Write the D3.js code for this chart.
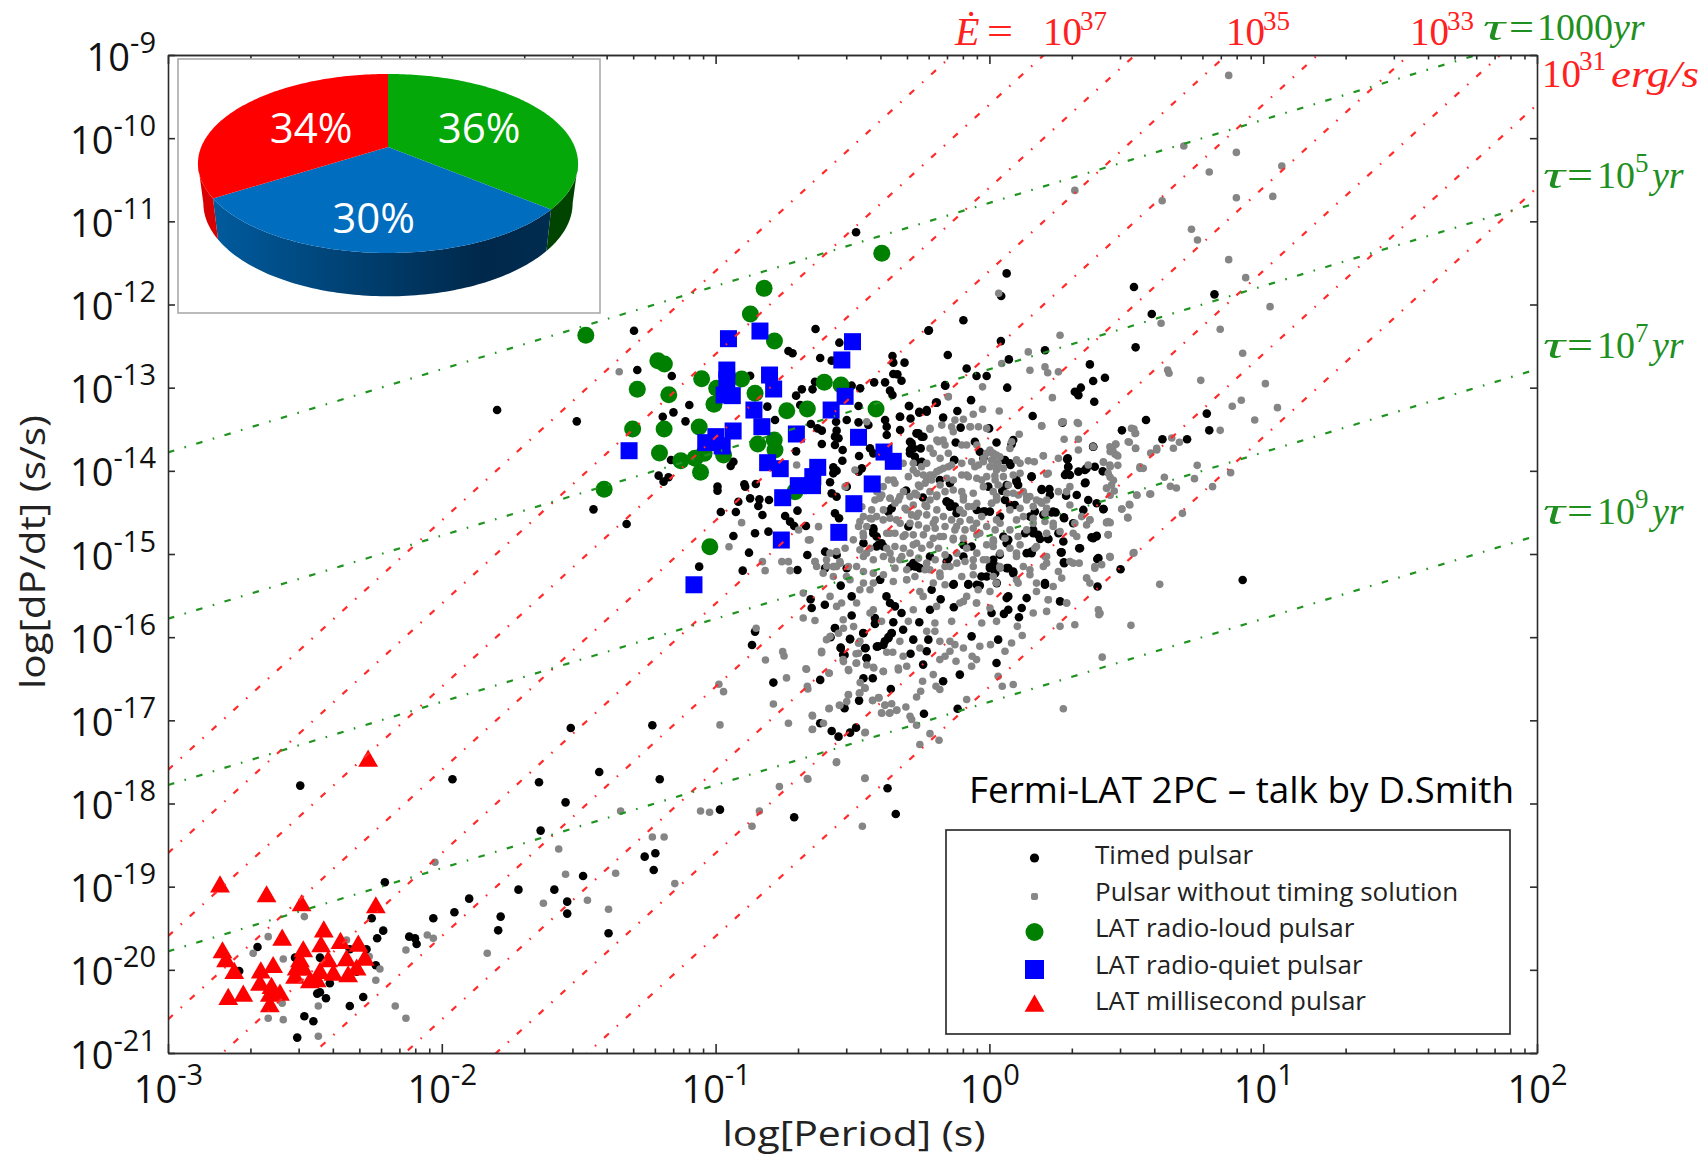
<!DOCTYPE html>
<html>
<head>
<meta charset="utf-8">
<title>Pulsar P-Pdot diagram</title>
<script src="https://cdn.jsdelivr.net/npm/d3@7"></script>
<style>
  body { margin: 0; background: #fff; }
  svg { display: block; }
  text { font-family: "Open Sans", sans-serif; }
  .cm { font-family: "Liberation Serif", serif; }
</style>
</head>
<body>
<div id="chart-container"></div>
<script>
// All points are [log10 period (s), log10 dP/dt (s/s)]

// Pulsars with a timing solution (black)
var timedPulsars = [
  [-2.517,-17.785],[-1.961,-17.709],[-1.645,-17.745],[-1.548,-17.986],[-2.208,-18.947],[-1.639,-18.326],[-1.720,-19.036],
  [-1.589,-19.036],[-1.900,-19.144],[-1.954,-19.308],[-2.031,-19.38],[-1.785,-19.36],[-2.256,-19.38],[-1.542,-19.18],
  [-1.542,-19.324],[-2.214,-19.529],[-1.794,-19.525],[-2.236,-19.621],[-2.119,-19.601],[-2.098,-19.621],[-2.092,-19.689],
  [-2.673,-19.725],[-2.336,-19.753],[-2.275,-19.753],[-2.536,-19.853],[-2.445,-19.853],[-2.740,-20.014],[-2.241,-19.945],
  [-2.311,-20.022],[-2.409,-20.162],[-2.455,-20.286],[-2.445,-20.27],[-2.423,-20.342],[-2.287,-20.326],[-2.336,-20.434],
  [-2.502,-20.559],[-2.469,-20.619],[-2.528,-20.815],[-1.529,-17.092],[-1.231,-17.06],[-1.425,-17.621],[-1.204,-17.709],
  [-0.984,-18.074],[-0.713,-18.166],[-1.259,-18.639],[-1.220,-18.599],[-1.226,-18.799],[-1.484,-18.871],[-1.391,-19.56],
  [-0.867,-16.094],[-0.856,-15.933],[-0.789,-16.546],[-0.618,-16.514],[-0.372,-17.817],[-0.342,-18.126],[-0.618,-17.035],
  [-0.576,-17.128],[-0.551,-17.196],[-0.509,-17.148],[-0.487,-17.088],[-0.529,-16.855],[-0.476,-16.763],[-0.360,-16.623],
  [-0.460,-16.494],[-0.426,-16.494],[-0.564,-15.893],[-0.509,-16.026],[-0.543,-16.126],[-0.460,-15.953],[-0.454,-16.134],
  [-0.529,-16.214],[-0.448,-16.254],[-0.411,-16.114],[-0.387,-16.094],[-0.369,-16.013],[-0.357,-15.953],[-0.417,-15.833],
  [0.528,-11.789],[0.822,-11.878],[0.593,-12.114],[0.534,-12.515],[0.422,-12.880],[0.572,-13.389],[0.484,-13.513],
  [0.794,-13.312],[0.803,-13.513],[0.632,-13.621],[0.722,-13.621],[0.414,-14.006],[0.417,-14.459],[0.479,-15.184],
  [0.925,-15.312],[0.063,-11.626],[0.043,-11.898],[-1.798,-13.268],
  [-0.487,-11.132],[-1.298,-12.315],[-0.635,-12.295],[-0.223,-12.315],[-0.548,-12.459],[-0.734,-12.559],[-0.719,-12.587],
  [-0.618,-12.643],[-0.576,-12.675],[-0.354,-12.619],[-0.152,-12.607],[-0.351,-12.699],[-0.310,-12.699],[-1.286,-12.788],
  [-1.160,-12.860],[-0.351,-12.836],[-0.336,-12.840],[-0.321,-12.916],[-0.874,-12.856],[-0.637,-12.928],[-0.472,-13.008],
  [-0.503,-12.976],[-0.421,-12.936],[-0.381,-12.936],[-0.685,-13.020],[-0.646,-13.020],[-0.706,-13.096],[-0.363,-13.036],
  [-0.354,-13.088],[-0.161,-12.976],[-1.096,-13.208],[-0.691,-13.208],[-0.478,-13.22],[-0.811,-13.228],[-1.154,-13.297],
  [-1.507,-13.405],[-1.193,-13.349],[-1.110,-13.405],[-0.783,-13.389],[-0.293,-13.22],[-0.192,-13.18],[-0.229,-13.289],
  [-0.256,-13.3],[-0.326,-13.349],[-0.381,-13.389],[-0.521,-13.389],[-0.560,-13.409],[-0.652,-13.437],[-0.628,-13.489],
  [-0.612,-13.517],[-0.478,-13.417],[-0.375,-13.469],[-0.326,-13.509],[-0.558,-13.517],[-0.564,-13.589],[-0.551,-13.609],
  [-0.265,-13.549],[-0.375,-13.569],[-0.442,-13.449],[-0.612,-13.677],[-0.564,-13.689],[-0.536,-13.749],[-0.706,-13.766],
  [-0.436,-13.729],[-0.424,-13.79],[-0.476,-13.822],[-0.537,-13.878],[-1.163,-13.870],[-0.935,-13.89],[-0.945,-13.942],
  [-0.570,-13.958],[-0.558,-13.998],[-0.466,-13.97],[-0.478,-14.01],[-0.570,-14.03],[-1.208,-14.058],[-1.172,-14.078],
  [-1.19,-14.13],[-0.582,-14.138],[-0.895,-14.162],[-0.853,-14.158],[-0.993,-14.19],[-0.993,-14.239],[-0.892,-14.19],
  [-0.576,-14.271],[-0.521,-14.19],[-0.558,-14.311],[-0.874,-14.331],[-0.840,-14.343],[-0.917,-14.371],[-0.805,-14.351],
  [-0.844,-14.423],[-1.446,-14.463],[-0.981,-14.495],[-0.926,-14.495],[-0.829,-14.531],[-0.701,-14.479],[-0.564,-14.511],
  [-0.549,-14.571],[-0.746,-14.543],[-0.728,-14.611],[-1.325,-14.639],[-0.713,-14.663],[-0.670,-14.663],[-0.856,-14.751],
  [-0.807,-14.731],[-0.935,-14.784],[-0.878,-14.984],[-0.665,-15.012],[-0.600,-14.972],[-1.060,-15.152],[-0.901,-15.2],
  [-0.701,-15.192],[-0.600,-15.172],[-0.558,-15.012],[-0.521,-15.172],
  [-0.095,-12.19],[-0.221,-12.31],[0.042,-12.44],[0.203,-12.55],[0.071,-12.66],[-0.083,-12.77],[-0.047,-12.86],[-0.010,-12.86],
  [0.367,-12.72],[0.379,-12.92],[-0.162,-12.97],[0.065,-13.00],[0.312,-13.05],[0.334,-13.00],[0.325,-13.09],[0.383,-13.17],
  [-0.067,-13.15],[-0.195,-13.18],[-0.117,-13.28],[0.158,-13.34],[-0.294,-13.22],[-0.229,-13.27],[-0.256,-13.29],[-0.327,-13.35],
  [-0.288,-13.37],[-0.169,-13.36],[-0.105,-13.48],[-0.001,-13.49],[0.087,-13.63],[0.267,-13.42],[0.379,-13.71],[-0.266,-13.55],
  [-0.248,-13.59],[-0.284,-13.67],[-0.290,-13.75],[-0.272,-13.83],[-0.251,-13.73],[-0.123,-13.66],[-0.053,-13.65],[0.026,-13.66],
  [0.081,-13.68],[-0.035,-13.77],[-0.022,-13.85],[-0.128,-13.87],[0.051,-13.87],[0.077,-13.93],[0.286,-13.85],[0.288,-13.95],
  [0.282,-14.03],[0.325,-14.01],[0.355,-13.97],[0.385,-13.95],[0.154,-14.07],[0.099,-14.11],[0.105,-14.17],[-0.144,-14.15],
  [-0.181,-14.11],[-0.004,-14.19],[0.349,-14.15],[0.191,-14.23],[0.048,-14.24],[-0.305,-14.24],[0.319,-14.29],[0.221,-14.29],
  [-0.156,-14.37],[-0.144,-14.43],[-0.120,-14.51],[-0.022,-14.49],[0.002,-14.49],[0.093,-14.41],[0.233,-14.49],[0.200,-14.53],
  [0.273,-14.57],[0.343,-14.47],[-0.424,-14.71],[-0.412,-14.79],[-0.412,-14.91],[-0.394,-14.87],[-0.272,-15.15],[-0.278,-15.11],
  [-0.254,-15.17],[0.160,-14.71],[0.178,-14.77],[0.051,-14.79],[0.069,-14.83],[0.063,-14.87],[0.215,-14.82],[0.270,-14.85],
  [0.379,-14.81],[0.391,-14.79],[0.331,-14.93],[0.264,-14.98],[-0.065,-14.91],[-0.095,-14.89],[-0.217,-15.03],[-0.150,-15.05],
  [-0.095,-15.03],[0.038,-15.01],[0.398,-15.05],[0.273,-15.11],[0.002,-15.17],[0.069,-15.17],[0.087,-15.21],[0.154,-14.99],
  [-0.029,-15.27],[-0.400,-15.31],[-0.543,-15.38],[-0.130,-15.36],[-0.077,-15.36],[0.203,-15.37],[0.395,-15.39],[-0.503,-15.51],
  [-0.601,-15.61],[-0.649,-15.65],[-0.376,-15.51],[-0.363,-15.59],[-0.345,-15.63],[-0.211,-15.43],[0.063,-15.53],[0.069,-15.51],
  [0.136,-15.53],[0.258,-15.57],[-0.130,-15.64],[0.008,-15.71],[0.069,-15.67],[-0.321,-15.71],
  [-0.653,-15.545],[-0.178,-15.545],[-0.217,-15.67],[-0.503,-15.74],[-0.418,-15.77],[-0.418,-15.84],[-0.351,-15.82],[-0.256,-15.82],
  [-0.564,-15.89],[-0.315,-15.91],[-0.461,-15.95],[-0.580,-16.0],[-0.509,-16.02],[-0.357,-15.95],[-0.369,-16.0],[-0.382,-16.05],
  [-0.406,-16.11],[-0.278,-16.03],[-0.223,-16.03],[-0.065,-15.99],[0.032,-16.03],[-0.452,-16.13],[-0.543,-16.13],[-0.534,-16.21],
  [-0.229,-16.17],[-0.288,-16.20],[-0.449,-16.25],[-0.242,-16.33],[0.026,-16.31],[-0.169,-16.53],[-0.108,-16.45],[-0.116,-16.86],
  [-0.239,-16.92],[-0.035,-15.38],[0.053,-15.72],[0.118,-15.65],[0.108,-15.76],
  [-0.290,-13.65],[-0.278,-13.73],[-0.290,-13.79],[-0.259,-13.55],[-0.241,-13.59],[-0.265,-13.89],[-0.247,-13.89],[-0.129,-13.87],
  [-0.304,-14.24],[-0.243,-14.32],[-0.156,-14.37],[-0.126,-14.43],[-0.144,-14.39],[-0.357,-14.45],[-0.369,-14.49],[-0.424,-14.69],
  [-0.424,-14.75],[-0.405,-14.89],[-0.460,-14.87],[-0.387,-14.91],[-0.296,-14.67],[-0.016,-14.49],[-0.046,-14.47],[-0.265,-15.15],
  [-0.156,-15.09],[-0.010,-15.27],[-0.399,-15.31],[-0.132,-15.37],[-0.077,-15.37],[-0.046,-15.37],[0.002,-15.15],[0.021,-15.23],
  [0.027,-15.35],[-0.290,-15.15],
  [0.379,-13.71],[0.284,-13.86],[0.288,-13.95],[0.276,-14.05],[0.294,-14.05],[0.349,-13.99],[0.351,-14.14],[0.057,-13.87],[0.075,-13.91],
  [0.154,-14.07],[0.099,-14.13],[0.063,-14.17],[0.048,-14.24],[0.191,-14.22],[0.219,-14.22],[0.280,-14.30],[0.361,-14.35],[0.392,-14.39],
  [0.416,-14.46],[0.227,-14.50],[0.242,-14.50],[0.166,-14.49],[0.148,-14.55],[0.197,-14.53],[0.272,-14.56],[0.306,-14.63],[0.057,-14.35],
  [0.075,-14.41],[0.039,-14.55],[0.130,-14.75],[0.160,-14.75],[0.185,-14.82],[0.215,-14.82],[0.252,-14.75],[0.373,-14.80],[0.392,-14.78],
  [0.328,-14.93],[0.261,-14.98],[0.154,-14.97],[0.136,-14.99],[0.394,-15.06],[0.272,-15.10],[0.014,-15.07],[0.026,-15.15],[0.063,-15.17],
  [0.087,-15.23],[0.203,-15.35]
];

// Pulsars without a timing solution (gray)
var untimedPulsars = [
  [-2.025,-18.707],[-1.573,-18.547],[-1.548,-18.851],[-1.629,-19.2],[-2.502,-19.36],[-2.634,-19.601],[-2.348,-19.641],
  [-2.053,-19.581],[-2.031,-19.621],[-2.689,-19.801],[-2.131,-19.761],[-1.834,-19.801],[-2.579,-19.869],[-2.265,-19.841],
  [-2.226,-19.99],[-2.241,-20.126],[-2.583,-20.402],[-2.451,-20.434],[-2.170,-20.434],[-2.634,-20.583],[-2.579,-20.599],
  [-2.131,-20.583],[-2.451,-20.799],
  [-0.852,-15.893],[-0.755,-16.174],[-0.750,-16.226],[-0.818,-16.274],[-0.613,-16.186],[-0.668,-16.386],[-0.585,-16.434],
  [-0.741,-16.490],[-0.663,-16.623],[-0.988,-16.566],[-0.971,-16.655],[-0.789,-16.803],[-0.585,-16.855],[-0.646,-16.947],
  [-0.734,-17.035],[-0.984,-17.055],[-0.606,-17.035],[-0.646,-17.108],[-0.453,-17.144],[-0.559,-17.508],[-0.663,-17.709],
  [-0.767,-17.797],[-0.454,-17.693],[-0.840,-18.09],[-0.867,-18.274],[-0.464,-18.274],[-1.055,-18.09],[-1.022,-18.106],
  [-1.347,-18.09],[-1.231,-18.402],[-1.188,-18.402],[-1.365,-18.839],[-1.149,-18.963],[-1.468,-19.164],[-1.391,-19.272],
  [-0.582,-15.993],[-0.551,-15.953],[-0.533,-15.893],[-0.496,-15.873],[-0.478,-16.074],[-0.478,-16.194],[-0.533,-16.294],
  [-0.487,-16.314],[-0.448,-16.334],[-0.514,-16.402],[-0.424,-16.362],[-0.387,-16.414],[-0.375,-16.182],[-0.353,-16.182],
  [-0.332,-16.394],[-0.472,-16.546],[-0.454,-16.615],[-0.475,-16.675],[-0.515,-16.695],[-0.521,-16.775],[-0.548,-16.819],
  [-0.426,-16.763],[-0.405,-16.727],[-0.381,-16.815],[-0.393,-16.915],[-0.365,-16.915],[-0.338,-16.875],
  [0.936,-11.677],[1.025,-12.026],[0.627,-12.226],[0.843,-12.298],[0.925,-12.587],[0.651,-12.787],[0.656,-12.827],[0.772,-12.912],
  [1.008,-12.952],[0.920,-13.152],[0.887,-13.224],[1.052,-13.24],[0.969,-13.389],[0.843,-13.513],[0.528,-13.497],[0.534,-13.549],
  [0.666,-13.605],[0.694,-13.657],[0.672,-13.729],[0.611,-13.749],[0.589,-13.785],[0.511,-13.657],[0.534,-13.729],[0.461,-13.677],
  [0.450,-13.729],[0.441,-13.769],[0.459,-13.801],[0.469,-13.821],[0.417,-13.898],[0.441,-13.95],[0.469,-13.934],[0.550,-13.95],
  [0.562,-13.97],[0.759,-13.934],[0.881,-14.022],[0.639,-14.078],[0.749,-14.094],[0.441,-14.078],[0.453,-14.114],[0.428,-14.206],
  [0.661,-14.186],[0.683,-14.206],[0.815,-14.19],[0.456,-14.242],[0.441,-14.294],[0.539,-14.294],[0.589,-14.278],[0.511,-14.403],
  [0.484,-14.459],[0.506,-14.567],[0.705,-14.511],[0.428,-14.623],[0.441,-14.623],[0.434,-14.767],[0.528,-14.984],[0.441,-15.04],
  [0.410,-15.128],[0.622,-15.365],[0.517,-15.858],[0.404,-15.713],
  [0.874,-9.245],[0.902,-10.171],[0.710,-10.095],[0.803,-10.407],[1.068,-10.335],[0.312,-10.628],[0.631,-10.752],[0.902,-10.716],
  [1.035,-10.70],[0.738,-11.096],[0.760,-11.225],[0.874,-11.461],[0.034,-11.866],
  [-1.352,-12.808],[-0.905,-14.623],[-0.951,-14.912],[-0.829,-15.092],[-0.819,-15.2],[-0.758,-15.092],[-0.734,-15.092],[-0.728,-15.2],
  [-0.637,-15.092],[-0.594,-15.144],[-0.570,-15.152],[-0.624,-14.671],[-0.697,-14.711],[-0.661,-14.832],[-0.704,-13.93],[-0.491,-13.99],
  [-0.399,-14.311],[-0.411,-14.25],[-0.527,-14.19],[-0.466,-14.431],[-0.448,-13.409],[-0.217,-13.489],[-0.150,-13.108],
  [0.258,-12.37],[0.142,-12.57],[0.045,-12.71],[0.148,-12.79],[0.203,-12.75],[0.213,-12.82],[0.252,-12.81],[-0.025,-12.99],
  [-0.150,-13.11],[0.230,-13.12],[-0.025,-13.26],[0.036,-13.28],[-0.059,-13.32],[-0.126,-13.39],[-0.095,-13.38],[-0.069,-13.47],
  [-0.138,-13.47],[-0.217,-13.50],[0.191,-13.46],[0.270,-13.41],[0.325,-13.43],[0.273,-13.62],[0.325,-13.62],[0.379,-13.71],
  [-0.169,-13.63],[-0.187,-13.65],[-0.217,-13.73],[-0.083,-13.69],[-0.010,-13.79],[0.014,-13.79],[0.038,-13.83],[0.032,-13.91],
  [0.002,-13.95],[-0.022,-13.89],[0.197,-13.82],[0.252,-13.85],[0.099,-13.87],[0.142,-13.88],[0.209,-14.04],[-0.150,-13.95],
  [-0.181,-13.99],[-0.205,-14.05],[-0.083,-14.05],[-0.053,-13.95],[-0.028,-14.11],[0.051,-14.07],[0.026,-13.99],[-0.278,-13.99],
  [-0.248,-13.95],[-0.315,-13.91],[-0.351,-14.11],[-0.388,-14.19],[-0.254,-14.19],[-0.229,-14.11],[-0.327,-14.31],[-0.363,-14.33],
  [-0.400,-14.33],[-0.272,-14.27],[-0.229,-14.43],[-0.193,-14.31],[-0.095,-14.31],[-0.108,-14.47],[-0.059,-14.43],[0.026,-14.35],
  [0.087,-14.27],[0.136,-14.31],[0.160,-14.43],[0.185,-14.37],[0.209,-14.45],[0.294,-14.41],[0.367,-14.59],[0.434,-14.61],
  [0.434,-14.77],[0.306,-14.75],[0.233,-14.63],[0.160,-14.57],[0.099,-14.59],[0.026,-14.59],[-0.047,-14.63],[-0.120,-14.67],
  [-0.205,-14.63],[-0.266,-14.55],[-0.302,-14.47],[-0.339,-14.59],[-0.388,-14.59],[-0.430,-14.58],[-0.473,-14.61],[-0.461,-14.75],
  [-0.363,-14.75],[-0.315,-14.79],[-0.266,-14.87],[-0.181,-14.79],[-0.132,-14.83],[-0.035,-14.75],[0.014,-14.83],[0.099,-14.99],
  [0.172,-14.91],[0.209,-15.03],[0.306,-15.11],[0.385,-15.17],[0.440,-15.03],[0.525,-14.99],[0.355,-15.29],[0.026,-15.35],
  [-0.041,-15.43],[0.002,-15.45],[0.148,-15.19],[0.099,-15.31],[0.172,-15.35],[0.233,-15.39],[0.215,-15.55],[0.282,-15.59],
  [-0.047,-15.59],[-0.083,-15.51],[-0.108,-15.59],[-0.193,-15.63],[-0.254,-15.45],[-0.242,-15.51],[-0.302,-15.31],[-0.351,-15.33],
  [-0.436,-15.43],[-0.473,-15.43],[-0.485,-15.59],[-0.522,-15.27],[-0.570,-15.27],[-0.607,-15.23],[-0.631,-15.15],[-0.595,-15.07],
  [-0.637,-15.09],[-0.655,-14.83],[-0.558,-15.15],[-0.546,-15.09],[-0.473,-14.95],[-0.449,-14.99],[-0.363,-14.99],[-0.327,-15.07],
  [-0.217,-15.19],[-0.181,-15.23],[-0.144,-15.15],[-0.059,-15.07],[-0.010,-15.07],[0.038,-15.15],[-0.430,-14.47],[-0.582,-15.51],
  [-0.680,-15.47],[-0.540,-15.59],[-0.424,-15.67],
  [-0.680,-15.77],[-0.637,-15.80],[-0.613,-16.17],[-0.670,-16.38],[-0.586,-16.43],[-0.665,-16.59],[-0.586,-16.86],[-0.647,-16.94],
  [-0.647,-17.11],[-0.558,-17.50],[-0.455,-17.70],[-0.455,-17.15],[-0.665,-17.70],[-0.515,-16.69],[-0.515,-16.39],[-0.546,-16.82],
  [-0.473,-16.67],[-0.455,-16.61],[-0.427,-16.76],[-0.403,-16.73],[-0.382,-16.82],[-0.394,-16.91],[-0.363,-16.91],[-0.357,-16.80],
  [-0.339,-16.88],[-0.305,-16.84],[-0.290,-16.95],[-0.284,-16.99],[-0.266,-17.06],[-0.266,-16.72],[-0.251,-16.65],[-0.244,-16.53],
  [-0.195,-16.59],[-0.181,-16.63],[-0.205,-16.45],[-0.065,-16.35],[0.032,-16.47],[0.047,-16.59],[0.087,-16.57],[-0.083,-16.75],
  [-0.217,-17.16],[-0.184,-17.24],[-0.254,-17.29],[0.270,-16.86],[0.412,-16.24],[0.312,-15.85],[0.398,-15.67],[0.400,-15.73],
  [0.258,-15.87],[0.209,-15.69],[0.102,-15.87],[0.120,-15.98],[0.081,-16.07],[0.057,-16.17],[0.004,-16.09],[-0.035,-16.11],
  [-0.063,-16.23],[-0.047,-16.27],[-0.095,-16.13],[-0.126,-16.09],[-0.144,-16.17],[-0.162,-16.23],[-0.181,-16.27],[-0.122,-16.29],
  [-0.144,-16.05],[-0.181,-16.05],[-0.199,-15.93],[-0.229,-15.93],[-0.254,-16.13],[-0.315,-16.23],[-0.333,-16.37],[-0.302,-16.35],
  [-0.388,-16.41],[-0.422,-16.37],[-0.485,-16.31],[-0.534,-16.27],[-0.487,-16.20],[-0.473,-16.05],[-0.327,-16.05],[-0.278,-15.67],
  [-0.296,-15.81],[-0.394,-15.81],[-0.436,-15.71],[-0.534,-15.79],[-0.558,-15.63],[-0.595,-16.03],[-0.028,-15.83],[0.026,-15.81],
  [-0.138,-15.81],[-0.199,-15.83],[-0.095,-15.57],[-0.047,-15.59],[0.002,-15.65],[0.172,-15.45],[0.215,-15.55],[0.282,-15.59],
  [0.160,-15.71],
  [-0.174,-13.45],[-0.192,-13.63],[-0.162,-13.69],[-0.132,-13.53],[-0.071,-13.47],[-0.040,-13.47],[-0.010,-13.49],[-0.150,-13.79],
  [-0.205,-13.79],[-0.180,-13.85],[-0.229,-13.91],[-0.278,-13.91],[-0.296,-14.07],[-0.265,-14.03],[-0.241,-14.05],[-0.217,-14.05],
  [-0.192,-14.01],[-0.168,-13.97],[-0.138,-13.93],[-0.101,-13.91],[-0.065,-13.89],[-0.040,-13.93],[-0.022,-13.85],[0.014,-13.87],
  [0.027,-13.93],[0.002,-13.75],[-0.046,-13.69],[-0.101,-13.69],[-0.259,-14.17],[-0.235,-14.15],[-0.211,-14.11],[-0.180,-14.17],
  [-0.156,-14.09],[-0.132,-14.11],[-0.101,-14.05],[-0.077,-14.07],[-0.046,-14.09],[-0.010,-14.07],[0.021,-14.11],[-0.290,-14.31],
  [-0.314,-14.25],[-0.345,-14.15],[-0.369,-14.11],[-0.393,-14.29],[-0.363,-14.33],[-0.332,-14.35],[-0.418,-14.35],[-0.265,-14.29],
  [-0.278,-14.41],[-0.217,-14.25],[-0.192,-14.29],[-0.162,-14.25],[-0.217,-14.35],[-0.235,-14.41],[-0.259,-14.51],[-0.284,-14.53],
  [-0.308,-14.45],[-0.345,-14.39],[-0.387,-14.47],[-0.436,-14.57],[-0.460,-14.55],[-0.412,-14.55],[-0.363,-14.57],[-0.326,-14.63],
  [-0.290,-14.63],[-0.259,-14.65],[-0.229,-14.53],[-0.192,-14.47],[-0.198,-14.59],[-0.168,-14.55],[-0.132,-14.23],[-0.101,-14.25],
  [-0.095,-14.35],[-0.077,-14.43],[-0.095,-14.51],[-0.071,-14.59],[-0.107,-14.61],[-0.138,-14.59],[-0.162,-14.67],[-0.198,-14.69],
  [-0.229,-14.69],[-0.126,-14.71],[-0.089,-14.71],[-0.059,-14.69],[-0.028,-14.55],[0.008,-14.39],[0.027,-14.33],[-0.022,-14.19],
  [0.014,-14.25],[-0.059,-14.27],[-0.046,-14.39],[-0.010,-14.67],[0.021,-14.71],[-0.046,-14.77],[-0.095,-14.81],[-0.132,-14.81],
  [-0.168,-14.79],[-0.205,-14.81],[-0.241,-14.77],[-0.278,-14.77],[-0.308,-14.77],[-0.345,-14.75],[-0.375,-14.75],[-0.448,-14.67],
  [-0.478,-14.67],[-0.460,-14.79],[-0.497,-14.83],[-0.527,-14.93],[-0.558,-14.97],[-0.582,-14.99],[-0.436,-14.93],[-0.375,-14.93],
  [-0.345,-14.91],[-0.314,-14.93],[-0.278,-14.89],[-0.247,-14.93],[-0.217,-14.89],[-0.186,-14.93],[-0.162,-15.01],[-0.119,-14.99],
  [-0.083,-14.93],[-0.046,-14.99],[-0.010,-14.89],[0.015,-14.85],[-0.460,-15.03],[-0.424,-15.07],[-0.387,-15.03],[-0.357,-15.07],
  [-0.320,-15.03],[-0.290,-14.99],[-0.259,-15.05],[-0.229,-15.11],[-0.198,-15.07],[-0.162,-15.15],[-0.119,-15.11],[-0.089,-15.09],
  [-0.059,-15.15],[-0.022,-15.07],[-0.545,-15.11],[-0.515,-15.15],[-0.564,-15.15],[-0.485,-15.15],[-0.460,-15.21],[-0.424,-15.23],
  [-0.387,-15.25],[-0.345,-15.17],[-0.302,-15.19],[-0.272,-15.27],[-0.235,-15.19],[-0.180,-15.27],[-0.101,-15.27],[-0.059,-15.25],
  [-0.509,-15.31],[-0.302,-15.31],[-0.460,-15.35],[-0.424,-15.35],[-0.205,-15.35],[-0.162,-15.37],
  [0.191,-13.46],[0.321,-13.42],[0.264,-13.42],[0.109,-13.56],[0.081,-13.65],[0.075,-13.73],[0.012,-13.79],[0.026,-13.81],[0.008,-13.87],
  [0.026,-13.93],[0.051,-13.97],[0.099,-13.87],[0.112,-13.91],[0.164,-13.89],[0.197,-13.82],[0.325,-13.75],[0.215,-14.03],[0.087,-14.05],
  [0.020,-14.06],[0.032,-14.17],[0.112,-14.03],[0.069,-14.17],[0.124,-14.25],[0.148,-14.31],[0.172,-14.35],[0.191,-14.39],[0.209,-14.35],
  [0.252,-14.25],[0.294,-14.19],[0.282,-14.25],[0.136,-14.35],[0.106,-14.29],[0.063,-14.27],[0.026,-14.31],[0.008,-14.39],[0.075,-14.47],
  [0.112,-14.45],[0.124,-14.55],[0.160,-14.63],[0.203,-14.51],[0.203,-14.61],[0.233,-14.67],[0.258,-14.73],[0.312,-14.63],[0.337,-14.55],
  [0.355,-14.65],[0.367,-14.59],[0.428,-14.62],[0.483,-14.46],[0.513,-14.41],[0.505,-14.56],[0.538,-14.29],[0.586,-14.28],[0.434,-14.77],
  [0.319,-14.79],[0.209,-14.75],[0.136,-14.71],[0.105,-14.79],[0.075,-14.71],[0.039,-14.63],[0.057,-14.81],[0.112,-14.89],[0.075,-14.93],
  [0.014,-14.91],[0.039,-14.99],[0.099,-15.03],[0.203,-15.03],[0.209,-15.11],[0.294,-15.09],[0.328,-15.11],[0.385,-15.15],[0.440,-15.03],
  [0.166,-14.93],[0.124,-15.15],[0.148,-15.25],[0.252,-15.21],[0.264,-15.29],[0.355,-15.29],[0.367,-15.35],[0.039,-15.17],[0.014,-15.27],
  [0.105,-15.35],[0.197,-15.15],[0.446,-14.17],[0.428,-14.21],[0.440,-13.71],[0.462,-13.68],[0.452,-13.77],[0.465,-13.81],[0.507,-13.65],
  [0.534,-13.73],[0.519,-13.49],[0.532,-13.55],[0.416,-13.89],[0.440,-13.93],[0.434,-14.03],[0.550,-13.97],[0.611,-13.73],[0.361,-13.93]
];

var radioLoudPulsars = [
  [-0.393,-11.385],[-0.823,-11.806],[-0.873,-12.114],[-0.785,-12.439],[-1.474,-12.371],[-1.211,-12.675],[-1.187,-12.715],
  [-1.286,-13.02],[-1.171,-13.084],[-1.051,-12.892],[-0.996,-13.008],[-0.905,-12.896],[-0.856,-13.068],[-1.006,-13.2],
  [-0.603,-12.936],[-0.542,-12.968],[-0.740,-13.277],[-0.665,-13.257],[-0.414,-13.257],[-1.303,-13.497],[-1.188,-13.497],
  [-1.060,-13.473],[-1.205,-13.786],[-1.127,-13.878],[-1.075,-13.85],[-1.042,-13.79],[-0.971,-13.81],[-1.055,-14.018],
  [-1.407,-14.222],[-0.846,-13.677],[-0.786,-13.629],[-0.783,-13.75],[-1.021,-14.912],[-0.71,-14.25]
];

var radioQuietPulsars = [
  [-0.838,-12.319],[-0.953,-12.411],[-0.500,-12.447],[-0.539,-12.667],[-0.959,-12.788],[-0.959,-12.908],[-0.969,-13.088],
  [-0.939,-13.096],[-0.803,-12.848],[-0.788,-13.016],[-0.527,-13.104],[-0.578,-13.269],[-0.860,-13.269],[-0.831,-13.469],
  [-0.478,-13.597],[-0.385,-13.774],[-0.351,-13.886],[-0.705,-13.557],[-1.036,-13.661],[-0.999,-13.589],[-0.936,-13.521],
  [-0.976,-13.701],[-1.316,-13.758],[-0.810,-13.902],[-0.764,-13.974],[-0.627,-13.958],[-0.645,-14.07],[-0.698,-14.178],
  [-0.646,-14.178],[-0.755,-14.323],[-0.428,-14.158],[-0.495,-14.395],[-0.550,-14.74],[-0.760,-14.832],[-1.079,-15.37]
];

var millisecondPulsars = [
  [-2.269,-17.489],[-2.810,-19.0],[-2.640,-19.12],[-2.512,-19.228],[-2.241,-19.252],[-2.431,-19.541],[-2.583,-19.641],
  [-2.801,-19.793],[-2.441,-19.721],[-2.370,-19.681],[-2.305,-19.713],[-2.506,-19.781],[-2.788,-19.901],[-2.616,-19.97],
  [-2.758,-20.041],[-2.661,-20.034],[-2.415,-19.901],[-2.348,-19.889],[-2.281,-19.881],[-2.518,-19.901],[-2.530,-20.0],
  [-2.664,-20.182],[-2.622,-20.222],[-2.591,-20.302],[-2.628,-20.314],[-2.780,-20.354],[-2.725,-20.314],[-2.628,-20.442],
  [-2.536,-20.1],[-2.482,-20.154],[-2.445,-20.041],[-2.396,-20.062],[-2.342,-20.082],[-2.311,-20.0],[-2.506,-20.0],[-2.457,-20.14]
];

// Reference lines: spin-down power (log10 erg/s) and characteristic age (years)
var edotLevels = [30, 31, 32, 33, 34, 35, 36, 37, 38];
var tauLevels = [1e3, 1e5, 1e7, 1e9];

// Inset pie
var pieLabels = ['36%', '30%', '34%'];
var pieValues = [36, 30, 34];

// Axis ticks
var xExponents = [-3, -2, -1, 0, 1, 2];
var yExponents = [-21, -20, -19, -18, -17, -16, -15, -14, -13, -12, -11, -10, -9];
var legendLabels = ['Timed pulsar', 'Pulsar without timing solution', 'LAT radio-loud pulsar', 'LAT radio-quiet pulsar', 'LAT millisecond pulsar'];

var width = 1702, height = 1155;
var margin = { top: 55, right: 165, bottom: 102, left: 168 };

var svg = d3.select('#chart-container').append('svg')
  .attr('width', width)
  .attr('height', height);

var x = d3.scaleLog().domain([1e-3, 1e2]).range([margin.left, width - margin.right]);
var y = d3.scaleLog().domain([1e-21, 1e-9]).range([height - margin.bottom, margin.top]);

function px(d) { return x(Math.pow(10, d[0])); }
function py(d) { return y(Math.pow(10, d[1])); }

var triangle = d3.symbol().type(d3.symbolTriangle).size(170);

// Draw the five point series
function drawSeries() {
  svg.append('g').selectAll('circle').data(timedPulsars).enter().append('circle')
    .attr('cx', px).attr('cy', py).attr('r', 4.3).attr('fill', '#000');
  svg.append('g').selectAll('circle').data(untimedPulsars).enter().append('circle')
    .attr('cx', px).attr('cy', py).attr('r', 3.8).attr('fill', '#858585');
  svg.append('g').selectAll('circle').data(radioLoudPulsars).enter().append('circle')
    .attr('cx', px).attr('cy', py).attr('r', 8.5).attr('fill', '#008000');
  svg.append('g').selectAll('rect').data(radioQuietPulsars).enter().append('rect')
    .attr('x', function (d) { return px(d) - 8.5; })
    .attr('y', function (d) { return py(d) - 8.5; })
    .attr('width', 17).attr('height', 17).attr('fill', '#0000ff');
  svg.append('g').selectAll('path').data(millisecondPulsars).enter().append('path')
    .attr('d', triangle)
    .attr('transform', function (d) { return 'translate(' + px(d) + ',' + py(d) + ')'; })
    .attr('fill', '#ff0000');
}

// Edot and tau guide lines go on top of the points
function drawGuides() {
  svg.append('clipPath').attr('id', 'plot-clip').append('rect')
    .attr('x', margin.left).attr('y', margin.top)
    .attr('width', width - margin.left - margin.right)
    .attr('height', height - margin.top - margin.bottom);

  var guides = svg.append('g').attr('clip-path', 'url(#plot-clip)').attr('fill', 'none');
  var ends = [-3, 2];

  // Edot = 4 pi^2 I Pdot / P^3 with I = 1e45
  var edotConst = Math.log10(4 * Math.PI * Math.PI * 1e45);
  edotLevels.forEach(function (level) {
    var pts = ends.map(function (lp) { return [lp, level - edotConst + 3 * lp]; });
    guides.append('path')
      .attr('d', d3.line().x(px).y(py)(pts))
      .attr('stroke', '#ff2a2a').attr('stroke-width', 2.2)
      .attr('stroke-dasharray', '6.5 10.7 1.6 10.7');
  });

  // tau = P / (2 Pdot), the plot uses about 3e7 s per year
  tauLevels.forEach(function (tau) {
    var pts = ends.map(function (lp) { return [lp, lp - Math.log10(2 * tau * 3e7)]; });
    guides.append('path')
      .attr('d', d3.line().x(px).y(py)(pts))
      .attr('stroke', '#1f931f').attr('stroke-width', 2.2)
      .attr('stroke-dasharray', '6.5 10.7 1.6 10.7');
  });
}

// Write 10^n as two tspans so the exponent sits up and small
function powerLabel(sel, exponent, size, supSize, rise) {
  sel.text(null);
  sel.append('tspan').attr('font-size', size).text('10');
  sel.append('tspan').attr('font-size', supSize).attr('dy', -rise).text(exponent);
}

function drawAxes() {
  var xMajor = xExponents.map(function (e) { return Math.pow(10, e); });
  var yMajor = yExponents.map(function (e) { return Math.pow(10, e); });
  var xMinor = [];
  xExponents.slice(0, -1).forEach(function (e) {
    d3.range(2, 10).forEach(function (m) { xMinor.push(m * Math.pow(10, e)); });
  });

  var bottom = 'translate(0,' + (height - margin.bottom) + ')';
  var top = 'translate(0,' + margin.top + ')';
  var axes = [
    svg.append('g').attr('transform', bottom).call(d3.axisBottom(x).tickValues(xMajor).tickSize(-9).tickSizeOuter(0)),
    svg.append('g').attr('transform', bottom).call(d3.axisBottom(x).tickValues(xMinor).tickSize(-4.5).tickSizeOuter(0).tickFormat('')),
    svg.append('g').attr('transform', top).call(d3.axisTop(x).tickValues(xMajor).tickSize(-9).tickSizeOuter(0).tickFormat('')),
    svg.append('g').attr('transform', top).call(d3.axisTop(x).tickValues(xMinor).tickSize(-4.5).tickSizeOuter(0).tickFormat('')),
    svg.append('g').attr('transform', 'translate(' + margin.left + ',0)').call(d3.axisLeft(y).tickValues(yMajor).tickSize(-7).tickSizeOuter(0)),
    svg.append('g').attr('transform', 'translate(' + (width - margin.right) + ',0)').call(d3.axisRight(y).tickValues(yMajor).tickSize(-7).tickSizeOuter(0).tickFormat(''))
  ];
  axes.forEach(function (g) {
    g.selectAll('path, line').attr('stroke', '#2b2b2b').attr('stroke-width', 1.6);
  });

  // Tick labels
  axes[0].selectAll('.tick text').each(function (d) {
    var t = d3.select(this).attr('dy', null).attr('y', 50).attr('fill', '#111')
      .attr('text-anchor', 'middle');
    powerLabel(t, String(Math.round(Math.log10(d))), 38, 29, 18);
  });
  axes[4].selectAll('.tick text').each(function (d) {
    var t = d3.select(this).attr('dy', null).attr('x', -12).attr('y', 15).attr('fill', '#111')
      .attr('text-anchor', 'end');
    powerLabel(t, String(Math.round(Math.log10(d))), 38, 29, 18);
  });

  svg.append('text')
    .attr('x', 854).attr('y', 1146)
    .attr('text-anchor', 'middle')
    .attr('font-size', 35).attr('fill', '#222')
    .attr('textLength', 263).attr('lengthAdjust', 'spacingAndGlyphs')
    .text('log[Period] (s)');

  svg.append('text')
    .attr('transform', 'translate(45,552) rotate(-90)')
    .attr('text-anchor', 'middle')
    .attr('font-size', 35).attr('fill', '#222')
    .attr('textLength', 274).attr('lengthAdjust', 'spacingAndGlyphs')
    .text('log[dP/dt] (s/s)');
}

// Red and green line labels outside the plot
function drawLineLabels() {
  var red = '#ff2020', green = '#1f8f1f';
  var g = svg.append('g').attr('class', 'labels');

  function cm(xPos, yPos, color, size, txt, italic, len) {
    var t = g.append('text').attr('class', 'cm')
      .attr('x', xPos).attr('y', yPos)
      .attr('fill', color).attr('font-size', size)
      .attr('font-style', italic ? 'italic' : null)
      .text(txt);
    if (len) t.attr('textLength', len).attr('lengthAdjust', 'spacingAndGlyphs');
    return t;
  }

  cm(955, 45, red, 40, 'Ė', true);
  cm(987, 45, red, 40, '=', false, 26);
  [[1043, '37'], [1226, '35'], [1410, '33']].forEach(function (d) {
    cm(d[0], 45, red, 39, '10');
    cm(d[0] + 37, 30, red, 27, d[1]);
  });
  cm(1483, 40, green, 38, 'τ', true, 22);
  cm(1509, 40, green, 38, '=', false, 25);
  cm(1537, 40, green, 38, '1000');
  cm(1613, 40, green, 38, 'yr', true);

  cm(1542, 87, red, 39, '10');
  cm(1579, 70, red, 27, '31');
  cm(1611, 87, red, 38, 'erg/s', true, 88);

  [[188, '5'], [358, '7'], [524, '9']].forEach(function (d) {
    cm(1543, d[0], green, 38, 'τ', true, 22);
    cm(1567, d[0], green, 38, '=', false, 26);
    cm(1597, d[0], green, 38, '10');
    cm(1635, d[0] - 16, green, 27, d[1]);
    cm(1652, d[0], green, 38, 'yr', true);
  });

  svg.append('text')
    .attr('x', 969).attr('y', 803)
    .attr('font-size', 36).attr('fill', '#000')
    .attr('textLength', 545).attr('lengthAdjust', 'spacingAndGlyphs')
    .text('Fermi-LAT 2PC – talk by D.Smith');
}

function drawLegend() {
  var g = svg.append('g');
  g.append('rect')
    .attr('x', 946).attr('y', 830).attr('width', 564).attr('height', 204)
    .attr('fill', '#fff').attr('stroke', '#222').attr('stroke-width', 1.6);

  var rowY = d3.scalePoint().domain(legendLabels).range([857, 1003]);

  g.selectAll('text').data(legendLabels).enter().append('text')
    .attr('x', 1095)
    .attr('y', function (d) { return rowY(d) + 7; })
    .attr('font-size', 26).attr('fill', '#222')
    .text(function (d) { return d; });

  g.append('circle').attr('cx', 1034.5).attr('cy', rowY(legendLabels[0]) + 1).attr('r', 4.6).attr('fill', '#000');
  g.append('rect').attr('x', 1031).attr('y', rowY(legendLabels[1]) - 0.5).attr('width', 7).attr('height', 7).attr('rx', 2).attr('fill', '#888');
  g.append('circle').attr('cx', 1034.5).attr('cy', rowY(legendLabels[2]) + 2).attr('r', 9).attr('fill', '#008000');
  g.append('rect').attr('x', 1025).attr('y', rowY(legendLabels[3]) - 6.5).attr('width', 19).attr('height', 19).attr('fill', '#0000ff');
  g.append('path').attr('d', triangle)
    .attr('transform', 'translate(1034.5,' + (rowY(legendLabels[4]) + 3) + ')')
    .attr('fill', '#ff0000');
}

// Pie inset, a flat pie seen in perspective
function drawPie() {
  var g = svg.append('g');
  g.append('rect')
    .attr('x', 178).attr('y', 59).attr('width', 422).attr('height', 254)
    .attr('fill', '#fff').attr('stroke', '#aaa').attr('stroke-width', 1.6);

  var topRim = { a: 186.8, b: 86.5, y0: 147 };
  var lowRim = { a: 181.5, b: 90, y0: 186 };

  function rimPoint(angle, rim) {
    var u = Math.sin(angle), v = -Math.cos(angle), w = 1 - 0.184 * v;
    return [388 + rim.a * u / w, rim.y0 + rim.b * v / w];
  }

  function arcPoints(start, end, rim) {
    var n = Math.max(2, Math.ceil((end - start) / 0.02));
    return d3.range(n + 1).map(function (i) {
      return rimPoint(start + (end - start) * i / n, rim);
    });
  }

  var gradient = svg.append('defs').append('linearGradient')
    .attr('id', 'blue-side').attr('gradientUnits', 'userSpaceOnUse')
    .attr('x1', 218).attr('x2', 549).attr('y1', 0).attr('y2', 0);
  gradient.append('stop').attr('offset', 0).attr('stop-color', '#005a9c');
  gradient.append('stop').attr('offset', 0.8).attr('stop-color', '#00284a');
  gradient.append('stop').attr('offset', 1).attr('stop-color', '#002c50');

  var topColors = ['#04a808', '#006dbf', '#ff0000'];
  var sideColors = ['#004400', 'url(#blue-side)', '#d80000'];
  var line = d3.line();
  var arcs = d3.pie().sort(null)(pieValues);
  // the wall runs between the widest points of the rim
  var front = [Math.PI * 0.559, Math.PI * 1.441];

  // Side walls first, the top covers their upper edge
  arcs.forEach(function (d, i) {
    var s = Math.max(d.startAngle, front[0]), e = Math.min(d.endAngle, front[1]);
    if (e <= s) return;
    var pts = arcPoints(s, e, topRim).concat(arcPoints(s, e, lowRim).reverse());
    g.append('path').attr('d', line(pts) + 'Z').attr('fill', sideColors[i]);
  });

  arcs.forEach(function (d, i) {
    var pts = [[388, topRim.y0]].concat(arcPoints(d.startAngle, d.endAngle, topRim));
    g.append('path').attr('d', line(pts) + 'Z').attr('fill', topColors[i]);
  });

  var labelPos = [[479, 143], [373.5, 233], [311, 143]];
  g.selectAll('text').data(pieLabels).enter().append('text')
    .attr('x', function (d, i) { return labelPos[i][0]; })
    .attr('y', function (d, i) { return labelPos[i][1]; })
    .attr('text-anchor', 'middle')
    .attr('font-size', 42).attr('fill', '#fff')
    .text(function (d) { return d; });
}

drawSeries();
drawGuides();
drawAxes();
drawLineLabels();
drawLegend();
drawPie();
</script>
</body>
</html>
